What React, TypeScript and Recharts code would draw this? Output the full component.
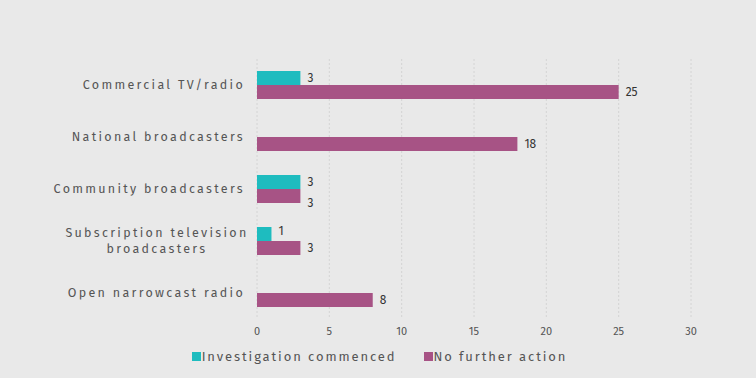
import React from "react";
import {
  BarChart,
  Bar,
  XAxis,
  YAxis,
  CartesianGrid,
  LabelList,
  Legend
} from "recharts";

const categories = [
  "Commercial TV/radio",
  "National broadcasters",
  "Community broadcasters",
  "Subscription television broadcasters",
  "Open narrowcast radio"
];
const investigationCommenced = [3, null, 3, 1, null];
const noFurtherAction = [25, 18, 3, 3, 8];
const xTicks = [0, 5, 10, 15, 20, 25, 30];

const data = categories.map((name, i) => ({
  name,
  investigation: investigationCommenced[i],
  nfa: noFurtherAction[i]
}));

const FONT = "'Fira Sans', 'Open Sans', 'Noto Sans', sans-serif";
const CYAN = "#1ebcbf";
const PURPLE = "#a75385";

const wrapLabel = (s: string) =>
  s === "Subscription television broadcasters"
    ? ["Subscription television", "broadcasters"]
    : [s];

function CategoryTick(props: any) {
  const { y, payload } = props;
  const lines = wrapLabel(payload.value);
  const lh = 16;
  const startY = y - ((lines.length - 1) * lh) / 2;
  const multi = lines.length > 1;
  return (
    <text
      textAnchor={multi ? "middle" : "end"}
      fontFamily={FONT}
      fontSize={12.5}
      fill="#555"
      letterSpacing={2.3}
    >
      {lines.map((l, i) => (
        <tspan key={i} x={multi ? 157 : 245} y={startY + i * lh} dy="0.35em">
          {l}
        </tspan>
      ))}
    </text>
  );
}

// labels of equal neighbouring bars are pushed apart, as in the original
function makeValueLabel(series: "investigation" | "nfa") {
  return function ValueLabel(props: any) {
    const { x, y, width, height, value, index } = props;
    if (value == null) return null;
    const row = data[index];
    const clash = row.investigation != null && row.investigation === row.nfa;
    const shift = clash ? (series === "investigation" ? -3 : 7) : 0;
    return (
      <text
        x={x + width + 7}
        y={y + height / 2 + shift}
        dy="0.35em"
        fontSize={12}
        fill="#333"
        fontFamily={FONT}
      >
        {value}
      </text>
    );
  };
}

function LegendContent() {
  const items = [
    { label: "Investigation commenced", color: CYAN },
    { label: "No further action", color: PURPLE }
  ];
  return (
    <div
      style={{
        display: "flex",
        justifyContent: "center",
        gap: 27,
        fontFamily: FONT,
        fontSize: 13,
        letterSpacing: 1.9,
        color: "#555",
        paddingLeft: 68,
        marginTop: 0
      }}
    >
      {items.map((it) => (
        <div key={it.label} style={{ display: "flex", alignItems: "center" }}>
          <span
            style={{
              width: 9,
              height: 9,
              background: it.color,
              display: "inline-block",
              marginRight: 1
            }}
          />
          {it.label}
        </div>
      ))}
    </div>
  );
}

const InvestigationLabel = makeValueLabel("investigation");
const NfaLabel = makeValueLabel("nfa");

export default function App() {
  return (
    <div
      style={{
        position: "absolute",
        left: 0,
        top: 0,
        width: 756,
        height: 378,
        background: "#e9e9e9"
      }}
    >
      <BarChart
        width={756}
        height={378}
        data={data}
        layout="vertical"
        margin={{ top: 59, right: 65, left: 0, bottom: 3 }}
        barGap={0}
        barCategoryGap={12}
      >
        <CartesianGrid
          horizontal={false}
          stroke="#d4d4d4"
          strokeDasharray="2 2"
        />
        <XAxis
          type="number"
          domain={[0, 30]}
          ticks={xTicks}
          axisLine={false}
          tickLine={false}
          height={30}
          tick={{ fontSize: 11, fill: "#555", fontFamily: FONT }}
        />
        <YAxis
          type="category"
          dataKey="name"
          width={257}
          axisLine={false}
          tickLine={false}
          tick={<CategoryTick />}
        />
        <Legend verticalAlign="bottom" height={26} content={<LegendContent />} />
        <Bar
          dataKey="investigation"
          fill={CYAN}
          barSize={14}
          isAnimationActive={false}
        >
          <LabelList dataKey="investigation" content={<InvestigationLabel />} />
        </Bar>
        <Bar dataKey="nfa" fill={PURPLE} barSize={14} isAnimationActive={false}>
          <LabelList dataKey="nfa" content={<NfaLabel />} />
        </Bar>
      </BarChart>
    </div>
  );
}
